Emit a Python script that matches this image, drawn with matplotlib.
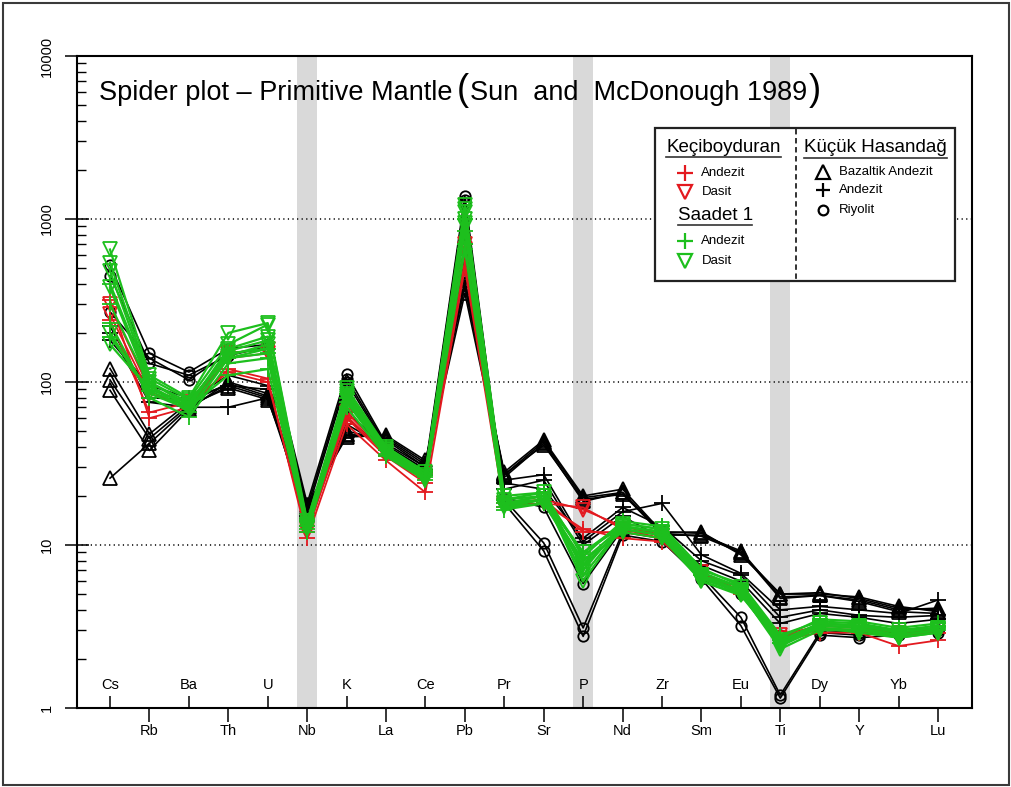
import matplotlib
matplotlib.use("Agg")
import matplotlib.pyplot as plt
from matplotlib.lines import Line2D
from matplotlib.patches import Rectangle

plt.rcParams['font.family'] = ['Liberation Sans', 'DejaVu Sans']

# ---------------------------------------------------------------- data
elements = ["Cs", "Rb", "Ba", "Th", "U", "Nb", "K", "La", "Ce", "Pb", "Pr",
            "Sr", "P", "Nd", "Zr", "Sm", "Eu", "Ti", "Dy", "Y", "Yb", "Lu"]
band_elements = ["Nb", "P", "Ti"]
y_ticks = [1, 10, 100, 1000, 10000]
grid_levels = [10, 100, 1000]

# Küçük Hasandağ - Bazaltik Andezit
kh_bazaltik_andezit = [
    [25.7, 42, 70, 95, 80, 17, 47, 46, 32, 400, 27, 43, 19.5, 21, 12, 11.8, 8.9, 5.0, 5.1, 4.7, 4.1, 4.0],
    [89, 38, 68, 100, 85, 16, 50, 44, 30, 350, 26, 42, 18.5, 21, 11.5, 11.5, 9.2, 4.8, 4.9, 4.6, 4.0, 4.1],
    [103, 45, 72, 92, 78, 17.5, 46, 47, 33, 380, 28, 44, 20, 22, 12, 12, 8.7, 5.0, 5.0, 4.8, 4.2, 3.9],
    [121, 48, 75, 98, 82, 16.5, 48, 45, 31, 420, 27, 41, 19, 20.5, 11.8, 11.3, 9.0, 4.7, 4.9, 4.5, 3.9, 3.8],
]
# Küçük Hasandağ - Andezit
kh_andezit = [
    [200, 75, 70, 70, 80, 15, 55, 40, 28, 500, 25, 27, 10.5, 16, 18, 8.7, 6.7, 4.0, 4.2, 4.0, 3.8, 4.6],
    [220, 80, 78, 110, 95, 14, 60, 38, 27, 600, 22, 25, 10, 15, 11, 7.5, 6.0, 3.3, 3.8, 3.6, 3.3, 3.5],
    [180, 95, 80, 95, 90, 13, 65, 40, 29, 700, 24, 22, 11, 17, 13, 8.0, 6.5, 3.6, 4.0, 3.7, 3.6, 3.7],
]
# Küçük Hasandağ - Riyolit
kh_riyolit = [
    [520, 150, 115, 160, 170, 18, 112, 42, 30, 1380, 19, 10.3, 3.1, 12, 11, 6.5, 3.6, 1.2, 2.9, 2.8, 2.9, 3.0],
    [270, 140, 103, 150, 160, 17, 105, 41, 29, 1300, 18, 9.2, 2.75, 11.5, 10.5, 6.2, 3.2, 1.15, 2.8, 2.7, 2.8, 2.9],
    [450, 130, 110, 145, 165, 16, 100, 40, 28, 1250, 19.5, 17, 5.8, 12.5, 11.5, 6.8, 5.0, 2.8, 3.0, 2.9, 2.9, 3.0],
]
# Keçiboyduran - Andezit
kb_andezit = [
    [320, 60, 70, 120, 105, 11, 55, 33, 21, 500, 17, 18, 12.5, 11, 10.5, 6.5, 5.0, 2.6, 2.9, 2.9, 2.4, 2.6],
    [240, 65, 75, 115, 100, 12, 60, 35, 24, 550, 18, 19, 12, 12, 11, 6.8, 5.2, 2.8, 3.0, 3.0, 2.8, 2.9],
]
# Keçiboyduran - Dasit
kb_dasit = [
    [260, 85, 72, 140, 150, 12.5, 62, 36, 25, 650, 17.5, 18, 17, 12.5, 11, 6.5, 5.0, 2.7, 3.1, 3.0, 2.8, 2.9],
    [300, 90, 75, 150, 160, 12, 65, 37, 26, 700, 18, 19, 16.5, 13, 11.5, 6.8, 5.2, 2.8, 3.2, 3.1, 2.9, 3.0],
]
# Saadet 1 - Andezit
sa_andezit = [
    [230, 80, 61, 130, 140, 12, 75, 36, 26, 700, 17, 19, 8, 13, 12, 6.8, 5.5, 2.6, 3.3, 3.2, 2.9, 3.1],
    [300, 95, 65, 140, 150, 13, 80, 38, 27, 850, 18, 20, 9, 13.5, 12.5, 7.0, 5.8, 2.8, 3.4, 3.3, 3.0, 3.2],
    [190, 88, 70, 110, 120, 12.5, 70, 35, 25, 650, 16.5, 18, 7.5, 12.5, 11.5, 6.5, 5.2, 2.5, 3.2, 3.1, 2.8, 3.0],
    [400, 100, 75, 150, 160, 14, 85, 40, 28, 1000, 19, 21, 8.5, 14, 13, 7.2, 5.6, 2.7, 3.5, 3.4, 3.1, 3.3],
]
# Saadet 1 - Dasit
sa_dasit = [
    [650, 110, 80, 200, 230, 14, 92, 40, 28, 1220, 20, 21, 7, 13.5, 12.5, 6.5, 5.5, 2.5, 3.3, 3.2, 2.9, 3.1],
    [540, 105, 78, 170, 225, 13.5, 88, 39, 27, 1150, 19, 20, 6.5, 13, 12, 6.3, 5.3, 2.4, 3.2, 3.1, 2.8, 3.0],
    [480, 100, 72, 160, 190, 13, 85, 38, 26, 1100, 18, 20, 6, 13, 12, 6.2, 5.1, 2.3, 3.0, 3.0, 2.7, 2.9],
    [380, 95, 70, 155, 180, 13, 82, 37, 26, 1000, 17.5, 19, 7.5, 12.5, 11.5, 6.0, 5.0, 2.4, 3.1, 3.0, 2.8, 3.0],
    [200, 85, 68, 140, 160, 12.5, 78, 36, 25, 900, 17, 18, 8, 12, 11, 6.0, 4.9, 2.5, 3.1, 2.9, 2.7, 2.9],
    [170, 90, 74, 145, 170, 13, 80, 37, 26, 950, 18, 19, 9, 13, 12, 6.4, 5.2, 2.6, 3.3, 3.2, 3.0, 3.1],
]

BLACK = "black"
RED = "#e3191f"
GREEN = "#1dbf1d"

groups = [
    (kh_bazaltik_andezit, BLACK, "^", 9.5, 1.2, 3),
    (kh_andezit, BLACK, "+", 11, 1.2, 3),
    (kh_riyolit, BLACK, "o", 7.5, 1.2, 3),
    (kb_andezit, RED, "+", 11, 1.3, 4),
    (kb_dasit, RED, "v", 9.5, 1.3, 4),
    (sa_andezit, GREEN, "+", 11, 1.6, 5),
    (sa_dasit, GREEN, "v", 9.5, 1.6, 5),
]

# ---------------------------------------------------------------- figure
W, H = 1011, 787
fig = plt.figure(figsize=(W / 100, H / 100), dpi=100)


def fx(px):
    return px / W


def fy(py):
    return 1 - py / H


ax = fig.add_axes([fx(77), fy(708), (972 - 77) / W, (708 - 56) / H])
ax.set_yscale("log")
ax.set_ylim(1, 10000)
ax.set_xlim(-0.837, 21.862)

x = list(range(len(elements)))

for el in band_elements:
    i = elements.index(el)
    ax.axvspan(i - 0.254, i + 0.254, color="#d9d9d9", lw=0, zorder=0)

for lvl in grid_levels:
    ax.axhline(lvl, color="black", lw=1.1, ls=(0, (0.8, 2.2)), zorder=1)

for samples, color, marker, ms, lw, z in groups:
    for row in samples:
        ax.plot(x, row, color=color, lw=lw, marker=marker, ms=ms,
                mfc="none", mec=color, mew=1.3, zorder=z, clip_on=False)

# axes frame and ticks
for sp in ax.spines.values():
    sp.set_linewidth(1.5)

ax.set_yticks(y_ticks)
ax.yaxis.set_minor_locator(matplotlib.ticker.LogLocator(base=10, subs=range(2, 10)))
ax.yaxis.set_minor_formatter(matplotlib.ticker.NullFormatter())
ax.tick_params(axis="y", which="major", direction="inout", length=17, width=1.1,
               labelleft=False)
ax.tick_params(axis="y", which="minor", direction="in", length=6.5, width=1.0)
for v in y_ticks:
    ax.annotate(str(v), xy=(0, v), xycoords=("axes fraction", "data"),
                xytext=(-21.5, 0), textcoords="offset points",
                rotation=90, ha="center", va="center", fontsize=10.5)

even_idx = [i for i in x if i % 2 == 0]
odd_idx = [i for i in x if i % 2 == 1]
ax.set_xticks(even_idx)
ax.set_xticks(odd_idx, minor=True)
ax.tick_params(axis="x", which="major", direction="in", length=8.6, width=1.1,
               labelbottom=False)
ax.tick_params(axis="x", which="minor", direction="out", length=10, width=1.1,
               labelbottom=False)
for i, el in enumerate(elements):
    off = 16.5 if i % 2 == 0 else -16.5
    ax.annotate(el, xy=(i, 0), xycoords=("data", "axes fraction"),
                xytext=(0, off), textcoords="offset points",
                ha="center", va="center", fontsize=10.5)

# ---------------------------------------------------------------- title
renderer = fig.canvas.get_renderer()
title_parts = [("Spider plot \u2013 Primitive Mantle", 19.5, 4),
               ("(", 26, 1),
               ("Sun  and  McDonough 1989", 19.5, 2),
               (")", 26, 0)]
cx = 99
for txt, size, gap in title_parts:
    t = fig.text(fx(cx), fy(100), txt, fontsize=size, ha="left", va="baseline")
    bb = t.get_window_extent(renderer)
    cx += bb.width + gap

# ---------------------------------------------------------------- legend box
fig.add_artist(Rectangle((fx(655), fy(281)), (955 - 655) / W, (281 - 128) / H,
                         transform=fig.transFigure, facecolor="white",
                         edgecolor="#222222", lw=1.6, zorder=10))
fig.add_artist(Line2D([fx(796), fx(796)], [fy(129), fy(280)],
                      transform=fig.transFigure, color="#222222", lw=1.3,
                      ls=(0, (3, 2)), zorder=11))


def header(text, xl, yc, x_end):
    fig.text(fx(xl), fy(yc), text, fontsize=13.5, ha="left", va="center", zorder=12)
    fig.add_artist(Line2D([fx(xl), fx(x_end)], [fy(yc + 10), fy(yc + 10)],
                          transform=fig.transFigure, color="#333333", lw=1.2, zorder=12))


def item(marker, color, ms, mx, my, text, tx):
    fig.add_artist(Line2D([fx(mx)], [fy(my)], transform=fig.transFigure,
                          marker=marker, ms=ms, mfc="none", mec=color, mew=1.6,
                          ls="none", zorder=12))
    fig.text(fx(tx), fy(my), text, fontsize=9.5, ha="left", va="center", zorder=12)


header("Keçiboyduran", 666, 147, 781)
item("+", RED, 11, 685, 173, "Andezit", 701)
item("v", RED, 10, 685, 192, "Dasit", 702)
header("Saadet 1", 678, 215, 752)
item("+", GREEN, 11, 685, 241, "Andezit", 701)
item("v", GREEN, 10, 685, 261, "Dasit", 702)
header("Küçük Hasandağ", 804, 148, 947)
item("^", BLACK, 10, 823, 172, "Bazaltik Andezit", 839)
item("+", BLACK, 10, 823, 190, "Andezit", 839)
item("o", BLACK, 7, 823, 210, "Riyolit", 839)

# outer frame
fig.add_artist(Rectangle((fx(3), fy(785)), (1009 - 3) / W, (785 - 3) / H,
                         transform=fig.transFigure, facecolor="none",
                         edgecolor="#3a3a3a", lw=1.5, zorder=20))

fig.savefig("out.png", dpi=100, facecolor="white")
